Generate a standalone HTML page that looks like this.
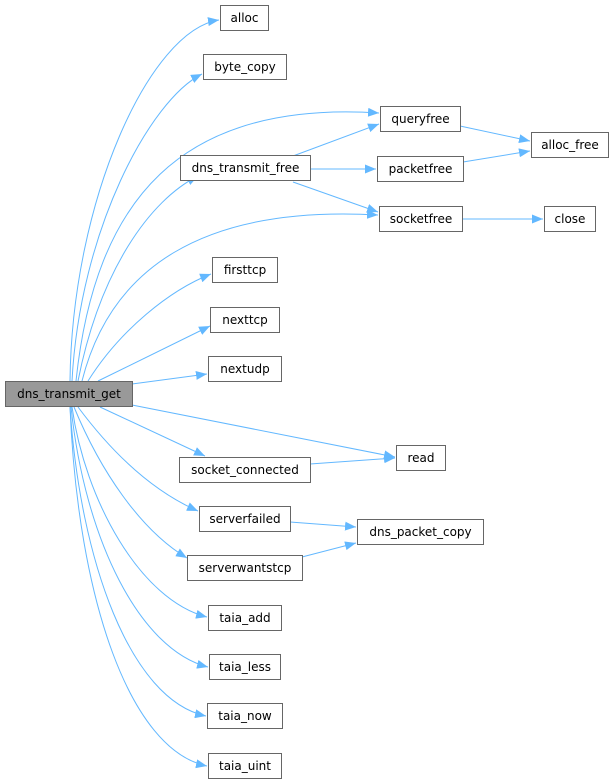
<!DOCTYPE html>
<html><head><meta charset="utf-8"><style>
html,body{margin:0;padding:0;background:#fff;}
svg{display:block;}
text{font-family:"DejaVu Sans","Liberation Sans",sans-serif;font-size:12px;fill:#000;}
</style></head><body>
<svg width="614" height="784" viewBox="0 0 614 784" xmlns="http://www.w3.org/2000/svg">
<defs>
<marker id="a" markerWidth="11" markerHeight="9" refX="11" refY="4.5" orient="auto" markerUnits="userSpaceOnUse">
<path d="M0,0 L11,4.5 L0,9 Z" fill="#63b8ff"/>
</marker>
</defs>
<g fill="none" stroke="#63b8ff" stroke-width="1" marker-end="url(#a)">
<path d="M70,381 C72,200 150,30 219,20"/>
<path d="M72,381 C80,230 150,100 202,74"/>
<path d="M76,381 C95,200 180,100 379,113"/>
<path d="M78,381 C100,270 150,200 198,176"/>
<path d="M82,381 C110,270 200,205 378,215"/>
<path d="M88,381 C120,330 170,290 211,274"/>
<path d="M98,381 L210,326"/>
<path d="M132,384 L207,374"/>
<path d="M132,405 L395,457"/>
<path d="M100,407 L205,456"/>
<path d="M78,407 C110,450 150,490 198,511"/>
<path d="M74,407 C100,470 140,530 187,558"/>
<path d="M72,407 C85,500 140,600 207,617"/>
<path d="M71,407 C85,540 140,650 208,667"/>
<path d="M70,407 C80,560 130,700 206,716"/>
<path d="M70,407 C78,600 130,750 207,766"/>
<path d="M293,156 L379,124"/>
<path d="M310,169 L376,169"/>
<path d="M293,182 L378,212"/>
<path d="M460,126 L530,141"/>
<path d="M463,162 L530,151"/>
<path d="M462,219 L543,219"/>
<path d="M310,464 L395,458"/>
<path d="M290,522 L356,527"/>
<path d="M302,557 L356,543"/>
</g>
<g stroke="#666" stroke-width="1">
<rect x="5.5" y="381.5" width="127" height="25" fill="#999"/>
<g fill="#fff">
<rect x="220.5" y="5.5" width="48" height="25"/>
<rect x="203.5" y="54.5" width="83" height="25"/>
<rect x="180.5" y="155.5" width="130" height="25"/>
<rect x="212.5" y="257.5" width="65" height="25"/>
<rect x="210.5" y="307.5" width="69" height="25"/>
<rect x="208.5" y="356.5" width="73" height="25"/>
<rect x="179.5" y="457.5" width="131" height="25"/>
<rect x="199.5" y="506.5" width="91" height="25"/>
<rect x="187.5" y="555.5" width="115" height="25"/>
<rect x="208.5" y="605.5" width="73" height="25"/>
<rect x="209.5" y="654.5" width="71" height="25"/>
<rect x="207.5" y="703.5" width="75" height="25"/>
<rect x="208.5" y="753.5" width="73" height="25"/>
<rect x="380.5" y="106.5" width="80" height="25"/>
<rect x="531.5" y="132.5" width="77" height="25"/>
<rect x="377.5" y="156.5" width="86" height="25"/>
<rect x="379.5" y="206.5" width="83" height="25"/>
<rect x="544.5" y="206.5" width="51" height="25"/>
<rect x="396.5" y="445.5" width="49" height="25"/>
<rect x="357.5" y="519.5" width="126" height="25"/>
</g>
</g>
<g text-anchor="middle">
<text x="69" y="398">dns_transmit_get</text>
<text x="244.5" y="22">alloc</text>
<text x="245" y="71">byte_copy</text>
<text x="245.5" y="172">dns_transmit_free</text>
<text x="245" y="274">firsttcp</text>
<text x="245" y="324">nexttcp</text>
<text x="245" y="373">nextudp</text>
<text x="245" y="474">socket_connected</text>
<text x="245" y="523">serverfailed</text>
<text x="245" y="572">serverwantstcp</text>
<text x="245" y="622">taia_add</text>
<text x="245" y="671">taia_less</text>
<text x="245" y="720">taia_now</text>
<text x="245" y="770">taia_uint</text>
<text x="420.5" y="123">queryfree</text>
<text x="570" y="149">alloc_free</text>
<text x="420.5" y="173">packetfree</text>
<text x="421" y="223">socketfree</text>
<text x="570" y="223">close</text>
<text x="421" y="462">read</text>
<text x="420.5" y="536">dns_packet_copy</text>
</g>
</svg>
</body></html>
